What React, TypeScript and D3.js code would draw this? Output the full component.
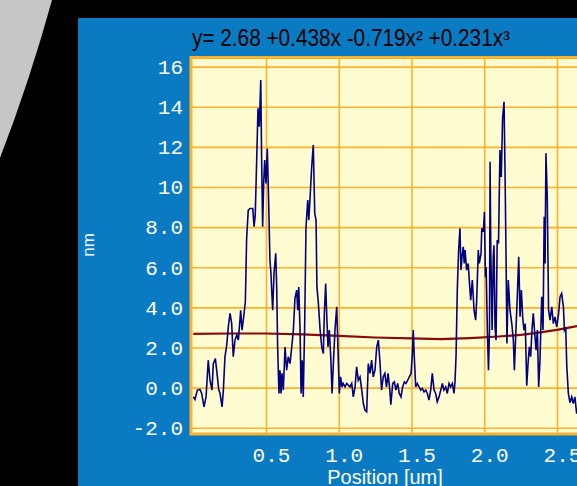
import { useEffect, useRef } from "react";
import * as d3 from "d3";

const W = 577;
const H = 486;

const title = "y= 2.68 +0.438x -0.719x² +0.231x³";
const xLabel = "Position [um]";
const yLabel = "nm";

const yTicks = [-2, 0, 2, 4, 6, 8, 10, 12, 14, 16];
const yTickLabels = ["-2.0", "0.0", "2.0", "4.0", "6.0", "8.0", "10", "12", "14", "16"];
const xTicks = [0.5, 1.0, 1.5, 2.0, 2.5];
const xTickLabels = ["0.5", "1.0", "1.5", "2.0", "2.5"];

// measured profile: [position um, height nm]
const profile: [number, number][] = [
  [0, -0.46], [0.012, -0.59], [0.028, -0.12], [0.046, -0.09], [0.058, -0.29], [0.074, -0.96], [0.088, -0.46], [0.103, 1.37], [0.115, 0.37], [0.129, -0.12],
  [0.138, 1.2], [0.152, 1.45], [0.161, 0.87], [0.175, -0.09], [0.184, -0.29], [0.198, -0.96], [0.207, -0.12], [0.218, 1.54], [0.23, 2.12], [0.241, 3.03],
  [0.253, 3.7], [0.264, 3.2], [0.275, 1.54], [0.287, 2.37], [0.299, 2.62], [0.31, 2.37], [0.326, 3.86], [0.335, 2.87], [0.344, 3.36], [0.358, 4.28],
  [0.367, 7.44], [0.378, 8.85], [0.39, 8.93], [0.409, 8.93], [0.418, 8.02], [0.426, 8.6], [0.436, 11.34], [0.445, 13.92], [0.454, 13.0], [0.464, 15.33],
  [0.47, 11.34], [0.477, 8.02], [0.484, 10.18], [0.491, 11.34], [0.5, 10.18], [0.509, 11.92], [0.519, 9.01], [0.527, 6.36], [0.534, 5.7], [0.539, 4.86],
  [0.546, 3.86], [0.555, 5.7], [0.567, 6.7], [0.574, 4.86], [0.58, 2.03], [0.589, -0.29], [0.596, 0.87], [0.603, -0.29], [0.61, 0.72], [0.619, -0.12],
  [0.631, 2.03], [0.642, 0.87], [0.653, 1.54], [0.665, 1.2], [0.677, 2.03], [0.688, 2.87], [0.699, 4.45], [0.711, 4.86], [0.718, 3.86], [0.725, 5.02],
  [0.734, 2.87], [0.741, -0.29], [0.749, 1.37], [0.756, -0.46], [0.766, 3.2], [0.775, 8.02], [0.787, 9.35], [0.794, 8.35], [0.802, 9.35], [0.814, 11.0],
  [0.825, 12.09], [0.835, 8.68], [0.844, 8.35], [0.85, 5.02], [0.86, 4.2], [0.872, 2.87], [0.883, 2.03], [0.894, 1.7], [0.901, 3.7], [0.91, 5.19],
  [0.917, 3.7], [0.926, 2.03], [0.935, 2.87], [0.945, 1.54], [0.954, -0.29], [0.963, 1.2], [0.974, 2.87], [0.986, 4.03], [0.995, 1.87], [1.004, -0.29],
  [1.013, 0.54], [1.022, 0.04], [1.031, 0.21], [1.043, 0.04], [1.055, 0.21], [1.066, 0.12], [1.077, 0.04], [1.089, 0.21], [1.1, -0.46], [1.112, 0.04],
  [1.123, 1.04], [1.134, 0.37], [1.146, 0.54], [1.158, -0.12], [1.169, -0.79], [1.18, -1.12], [1.192, -1.2], [1.203, 1.2], [1.215, 0.71], [1.226, 1.37],
  [1.237, 0.54], [1.249, 0.87], [1.261, 2.03], [1.272, 2.37], [1.283, 1.3], [1.294, -0.12], [1.306, 0.54], [1.317, 0.71], [1.328, 0.04], [1.339, 0.71],
  [1.351, -0.12], [1.358, -0.85], [1.371, 0.21], [1.382, 0.29], [1.393, -0.12], [1.405, 0.21], [1.416, -0.29], [1.428, -0.46], [1.439, 0.04], [1.451, 0.29],
  [1.462, 0.21], [1.474, 0.37], [1.485, 0.54], [1.497, 0.71], [1.506, 1.7], [1.512, 2.87], [1.519, 1.54], [1.529, 0.04], [1.54, 0.21], [1.552, 0.04],
  [1.563, -0.12], [1.574, -0.04], [1.586, -0.21], [1.598, -0.12], [1.609, -0.29], [1.62, -0.62], [1.632, -0.12], [1.643, 0.71], [1.655, -0.12], [1.666, -0.29],
  [1.677, -0.7], [1.689, -0.46], [1.701, -0.12], [1.712, 0.21], [1.723, -0.12], [1.735, 0.04], [1.746, -0.29], [1.758, 0.21], [1.769, 0.04], [1.781, 0.21],
  [1.792, -0.29], [1.799, 0.29], [1.806, 1.54], [1.815, 4.95], [1.824, 6.86], [1.833, 7.94], [1.84, 5.86], [1.847, 6.52], [1.856, 7.02], [1.862, 6.19],
  [1.868, 6.86], [1.879, 5.86], [1.89, 6.19], [1.897, 5.36], [1.907, 4.36], [1.918, 5.36], [1.93, 3.86], [1.941, 3.36], [1.948, 4.36], [1.959, 6.86],
  [1.966, 6.2], [1.978, 6.69], [1.983, 7.94], [1.994, 7.77], [2.001, 8.76], [2.008, 5.5], [2.013, 6.0], [2.022, 2.7], [2.029, 0.87], [2.036, 2.87],
  [2.04, 11.26], [2.045, 6.86], [2.054, 2.87], [2.062, 6.52], [2.067, 7.1], [2.074, 3.03], [2.081, 2.37], [2.089, 7.35], [2.098, 7.19], [2.108, 11.84],
  [2.117, 10.5], [2.126, 13.42], [2.136, 14.25], [2.143, 10.68], [2.15, 6.36], [2.156, 2.2], [2.165, 5.36], [2.177, 3.86], [2.189, 3.2], [2.2, 2.37],
  [2.207, 0.87], [2.216, 2.53], [2.227, 4.53], [2.237, 6.52], [2.246, 3.53], [2.255, 4.86], [2.264, 3.53], [2.273, 2.87], [2.282, 3.19], [2.292, 0.1],
  [2.301, 1.2], [2.31, 2.03], [2.319, 1.54], [2.328, 2.87], [2.337, 3.7], [2.347, 2.7], [2.356, 1.87], [2.365, 2.87], [2.374, 0.04], [2.383, 1.37],
  [2.395, 4.53], [2.404, 2.87], [2.412, 8.52], [2.418, 6.19], [2.424, 11.68], [2.433, 9.51], [2.442, 3.86], [2.452, 3.36], [2.464, 4.03], [2.475, 3.19],
  [2.486, 3.53], [2.498, 3.03], [2.511, 3.7], [2.521, 4.53], [2.532, 4.69], [2.544, 4.03], [2.551, 2.87], [2.56, 3.0], [2.567, 1.1], [2.578, -0.29],
  [2.589, -0.75], [2.601, -0.46], [2.612, -0.79], [2.623, -0.46], [2.635, -1.29], [2.647, -0.9],
];

// polynomial fit as drawn
const fit: [number, number][] = [
  [0, 2.68], [0.25, 2.7], [0.5, 2.7], [0.75, 2.66], [1.0, 2.58], [1.25, 2.5], [1.5, 2.46],
  [1.7, 2.42], [1.9, 2.47], [2.1, 2.55], [2.25, 2.63], [2.35, 2.72], [2.5, 2.88], [2.6, 3.02], [2.7, 3.15],
];

export default function App() {
  const svgRef = useRef<SVGSVGElement>(null);

  useEffect(() => {
    const svg = d3.select(svgRef.current);
    svg.selectAll("*").remove();

    const left = 191, top = 57.5, right = 600, bottom = 434;

    // backdrop
    svg.append("rect").attr("width", W).attr("height", H).attr("fill", "#000");
    svg.append("path").attr("d", "M0,0 L52,0 Q30,80 0,158 Z").attr("fill", "#c6c6c6");
    svg.append("rect").attr("x", 78).attr("y", 18).attr("width", W - 78).attr("height", H - 18).attr("fill", "#0a7bc2");

    const x = d3.scaleLinear().domain([0, 2.65]).range([193.25, 193.25 + 2.65 * 145.5]);
    const y = d3.scaleLinear().domain([-2, 16]).range([427.8, 66.6]);

    svg.append("rect")
      .attr("x", left).attr("y", top)
      .attr("width", right - left).attr("height", bottom - top)
      .attr("fill", "#fffcd2");

    const defs = svg.append("defs");
    defs.append("clipPath").attr("id", "plotClip")
      .append("rect").attr("x", left).attr("y", top).attr("width", right - left).attr("height", bottom - top);

    // grid
    svg.append("g").attr("transform", `translate(${left},0)`)
      .call(d3.axisLeft(y).tickValues(yTicks).tickSize(-(right - left)).tickFormat(() => ""))
      .call(ax => ax.select(".domain").remove())
      .call(ax => ax.selectAll("line").attr("stroke", "#ffb12c").attr("stroke-width", 1.6));
    svg.append("g").attr("transform", `translate(0,${bottom})`)
      .call(d3.axisBottom(x).tickValues(xTicks).tickSize(-(bottom - top)).tickFormat(() => ""))
      .call(ax => ax.select(".domain").remove())
      .call(ax => ax.selectAll("line").attr("stroke", "#ffb12c").attr("stroke-width", 1.6));

    svg.append("rect")
      .attr("x", left).attr("y", top)
      .attr("width", right - left).attr("height", bottom - top)
      .attr("fill", "none").attr("stroke", "#ffb12c").attr("stroke-width", 3);

    const plot = svg.append("g").attr("clip-path", "url(#plotClip)");

    const line = d3.line<[number, number]>().x(d => x(d[0])).y(d => y(d[1]));

    plot.append("path").datum(fit)
      .attr("fill", "none").attr("stroke", "#8a0a0a").attr("stroke-width", 2.2)
      .attr("d", line);

    plot.append("path").datum(profile)
      .attr("fill", "none").attr("stroke", "#000080").attr("stroke-width", 1.6)
      .attr("stroke-linejoin", "miter").attr("d", line);

    // tick labels
    svg.append("g").attr("transform", `translate(${left},0)`)
      .call(d3.axisLeft(y).tickValues(yTicks).tickSize(0).tickPadding(8)
        .tickFormat((d, i) => yTickLabels[i]))
      .call(ax => ax.select(".domain").remove())
      .call(ax => ax.selectAll("text")
        .attr("fill", "#fff").attr("font-size", 21).attr("font-family", "Liberation Mono"));

    svg.append("g").attr("transform", `translate(0,${bottom})`)
      .call(d3.axisBottom(x).tickValues(xTicks).tickSize(0).tickPadding(13)
        .tickFormat((d, i) => xTickLabels[i]))
      .call(ax => ax.select(".domain").remove())
      .call(ax => ax.selectAll("text")
        .attr("dx", 5)
        .attr("fill", "#fff").attr("font-size", 21).attr("font-family", "Liberation Mono"));

    svg.append("text")
      .attr("x", 192).attr("y", 46)
      .attr("font-family", "Liberation Sans").attr("font-size", 23)
      .attr("textLength", 318).attr("lengthAdjust", "spacingAndGlyphs")
      .attr("fill", "#000")
      .text(title);

    svg.append("text")
      .attr("transform", "translate(94,245) rotate(-90)")
      .attr("text-anchor", "middle")
      .attr("font-family", "Liberation Sans").attr("font-size", 17)
      .attr("fill", "#fff")
      .text(yLabel);

    svg.append("text")
      .attr("x", 385).attr("y", 484)
      .attr("text-anchor", "middle")
      .attr("font-family", "Liberation Sans").attr("font-size", 20)
      .attr("fill", "#fff")
      .text(xLabel);
  }, []);

  return (
    <div style={{ position: "fixed", left: 0, top: 0, width: W, height: H }}>
      <svg ref={svgRef} width={W} height={H} style={{ display: "block" }} />
    </div>
  );
}
